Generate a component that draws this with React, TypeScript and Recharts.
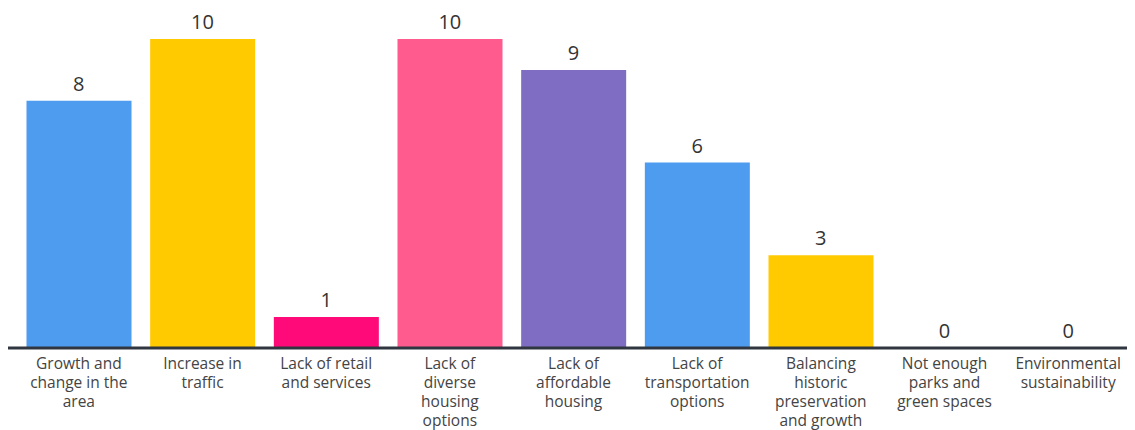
import React from "react";
import { ComposedChart, Bar, Line, XAxis, YAxis, Cell } from "recharts";

const categories: string[] = [
  "Growth and change in the area",
  "Increase in traffic",
  "Lack of retail and services",
  "Lack of diverse housing options",
  "Lack of affordable housing",
  "Lack of transportation options",
  "Balancing historic preservation and growth",
  "Not enough parks and green spaces",
  "Environmental sustainability",
];

const tickLines: string[][] = [
  ["Growth and", "change in the", "area"],
  ["Increase in", "traffic"],
  ["Lack of retail", "and services"],
  ["Lack of", "diverse", "housing", "options"],
  ["Lack of", "affordable", "housing"],
  ["Lack of", "transportation", "options"],
  ["Balancing", "historic", "preservation", "and growth"],
  ["Not enough", "parks and", "green spaces"],
  ["Environmental", "sustainability"],
];

const values: number[] = [8, 10, 1, 10, 9, 6, 3, 0, 0];

const colors: string[] = [
  "#4e9cf0",
  "#ffca00",
  "#ff0a78",
  "#ff5b8e",
  "#7e6dc2",
  "#4e9cf0",
  "#ffca00",
  "#4e9cf0",
  "#4e9cf0",
];

const data = categories.map((c, i) => ({ name: c, value: values[i] }));

const FONT = "'Open Sans', Lato, sans-serif";

const Tick = (props: any) => {
  const { x, y, index } = props;
  const lines = tickLines[index] || [];
  return (
    <g transform={`translate(${x},${y})`}>
      <text textAnchor="middle" fill="#444" fontSize={15.5} fontFamily={FONT}>
        {lines.map((l, i) => (
          <tspan key={i} x={0} dy={i === 0 ? 13 : 19}>
            {l}
          </tspan>
        ))}
      </text>
    </g>
  );
};

const ValueLabel = (props: any) => {
  const { x, y, value } = props;
  return (
    <text
      x={Number(x)}
      y={Number(y) - 10}
      textAnchor="middle"
      fill="#333"
      fontSize={20}
      fontFamily={FONT}
    >
      {value}
    </text>
  );
};

export default function App() {
  return (
    <ComposedChart
      width={1127}
      height={422}
      data={data}
      margin={{ top: 31, right: 0, bottom: 2, left: 0 }}
      barCategoryGap={9.5}
    >
      <XAxis
        dataKey="name"
        interval={0}
        tick={<Tick />}
        tickLine={false}
        axisLine={{ stroke: "#30363f", strokeWidth: 3 }}
        height={80}
        padding={{ left: 9, right: 5 }}
      />
      <YAxis hide domain={[0, 10]} />
      <Bar dataKey="value" isAnimationActive={false}>
        {data.map((d, i) => (
          <Cell key={i} fill={colors[i]} />
        ))}
      </Bar>
      <Line
        dataKey="value"
        stroke="none"
        dot={false}
        activeDot={false}
        isAnimationActive={false}
        label={<ValueLabel />}
      />
    </ComposedChart>
  );
}
